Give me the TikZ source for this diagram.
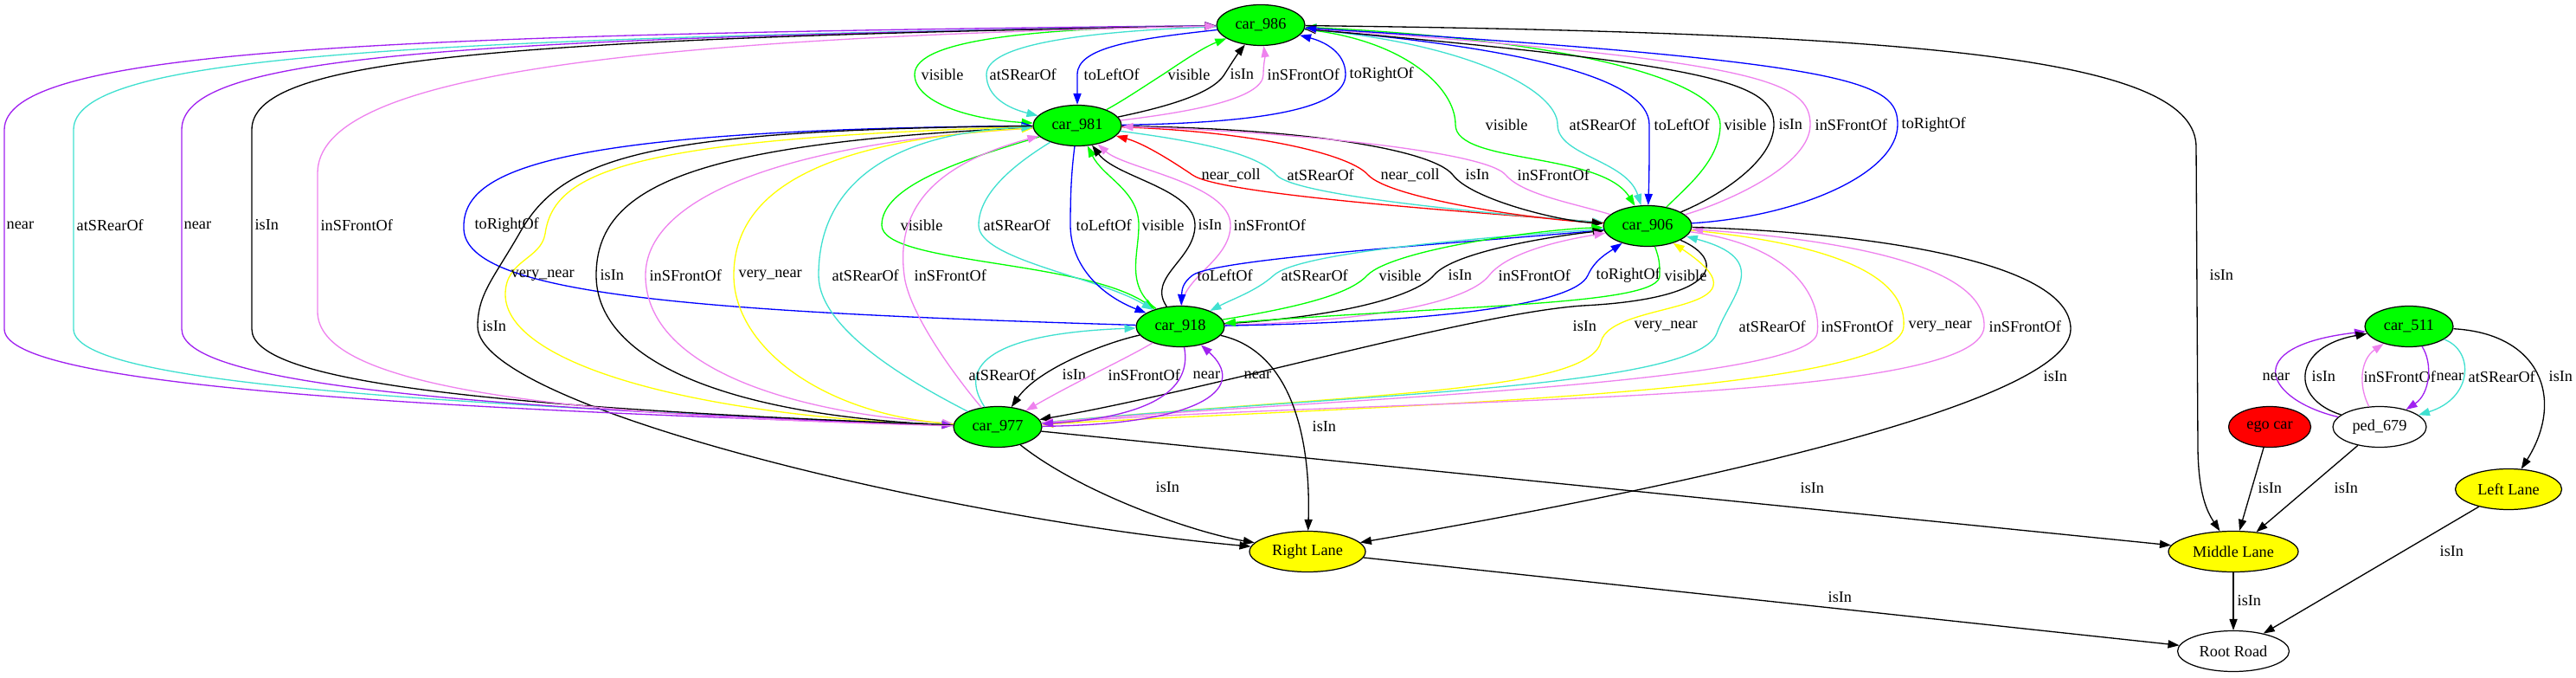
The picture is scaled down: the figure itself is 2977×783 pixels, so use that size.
\documentclass[tikz,border=0pt]{standalone}
\usepackage{fontspec}
\setmainfont{Liberation Serif}
\usetikzlibrary{arrows.meta,shapes.geometric}
\definecolor{gvgreen}{RGB}{0,255,0}
\definecolor{gvturq}{RGB}{64,224,208}
\definecolor{gvviolet}{RGB}{238,130,238}
\definecolor{gvpurple}{RGB}{160,32,240}
\definecolor{gvblue}{RGB}{0,0,255}
\definecolor{gvred}{RGB}{255,0,0}
\definecolor{gvyellow}{RGB}{255,255,0}
\newcommand{\gvfont}{\fontsize{10.4}{12}\selectfont}
\begin{document}
\begin{tikzpicture}[x=0.02cm, y=-0.02cm,
    font=\gvfont,
    >={Triangle[length=7.4pt,width=5.2pt]},
    obj/.style={ellipse, draw, line width=0.7pt, inner sep=0pt, minimum height=0.94cm, minimum width=2.04cm},
    car/.style={obj, fill=gvgreen},
    lane/.style={obj, fill=gvyellow},
    rel/.style={->, line width=0.75pt},
    vis/.style={rel, gvgreen},
    rear/.style={rel, gvturq},
    lft/.style={rel, gvblue},
    rgt/.style={rel, gvblue},
    isin/.style={rel, black},
    front/.style={rel, gvviolet},
    nr/.style={rel, gvpurple},
    coll/.style={rel, gvred},
    vnr/.style={rel, gvyellow},
    lbl/.style={anchor=west, inner sep=0pt, text=black}]
  \useasboundingbox (0,0) rectangle (2977,783);
  % objects
  \node[car] (c986) at (1457,29) {car\_986};
  \node[car] (c981) at (1245,145) {car\_981};
  \node[car] (c906) at (1904,261) {car\_906};
  \node[car] (c918) at (1364,377) {car\_918};
  \node[car] (c977) at (1153,493) {car\_977};
  \node[car] (c511) at (2784,377) {car\_511};
  \node[obj, minimum width=2.16cm] (ped) at (2750,493) {ped\_679};
  \node[obj, fill=gvred, minimum width=1.9cm] (ego) at (2623,493) {ego car};
  \node[lane, minimum width=2.68cm] (right) at (1511,637) {Right Lane};
  \node[lane, minimum width=3cm] (middle) at (2581,637) {Middle Lane};
  \node[lane, minimum width=2.46cm] (left) at (2899,565) {Left Lane};
  \node[obj, minimum width=2.58cm] (root) at (2581,752) {Root Road};
  % car_986 and car_981
  \draw[vis] (c986) .. controls (1200,32) and (1057,45) .. (1057,86) .. controls (1057,118) and (1120,138) .. (c981) node[lbl] at (1064,86) {visible};
  \draw[rear] (c986) .. controls (1260,36) and (1140,50) .. (1140,86) .. controls (1140,112) and (1165,125) .. (c981) node[lbl] at (1143,86) {atSRearOf};
  \draw[lft] (c986) .. controls (1310,45) and (1245,55) .. (1245,86) .. controls (1245,100) and (1245,110) .. (c981) node[lbl] at (1252,86) {toLeftOf};
  \draw[vis] (c981) .. controls (1300,115) and (1325,98) .. (1344,86) .. controls (1365,72) and (1390,55) .. (c986) node[lbl] at (1349,86) {visible};
  \draw[isin] (c981) .. controls (1340,125) and (1400,110) .. (1415,86) .. controls (1425,70) and (1432,60) .. (c986) node[lbl] at (1421,86) {isIn};
  \draw[front] (c981) .. controls (1370,130) and (1460,115) .. (1460,86) .. controls (1460,75) and (1462,65) .. (c986) node[lbl] at (1464,86) {inSFrontOf};
  \draw[rgt] (c981) .. controls (1460,142) and (1555,125) .. (1555,86) .. controls (1555,60) and (1530,48) .. (c986) node[lbl] at (1559,86) {toRightOf};
  % car_986 and car_906
  \draw[vis] (c986) .. controls (1620,45) and (1682,100) .. (1682,144) .. controls (1682,190) and (1850,175) .. (c906) node[lbl] at (1716,144) {visible};
  \draw[rear] (c986) .. controls (1700,50) and (1800,105) .. (1800,144) .. controls (1800,180) and (1880,185) .. (c906) node[lbl] at (1813,144) {atSRearOf};
  \draw[lft] (c986) .. controls (1760,55) and (1906,90) .. (1906,144) .. controls (1906,180) and (1906,200) .. (c906) node[lbl] at (1911,144) {toLeftOf};
  \draw[vis] (c906) .. controls (1950,215) and (1988,185) .. (1988,144) .. controls (1988,90) and (1800,45) .. (c986) node[lbl] at (1992,144) {visible};
  \draw[isin] (c906) .. controls (1990,225) and (2050,185) .. (2050,144) .. controls (2050,95) and (1980,75) .. (c986) node[lbl] at (2055,144) {isIn};
  \draw[front] (c906) .. controls (2000,232) and (2092,190) .. (2092,144) .. controls (2092,95) and (2040,70) .. (c986) node[lbl] at (2097,144) {inSFrontOf};
  \draw[rgt] (c906) .. controls (2080,250) and (2193,200) .. (2193,144) .. controls (2193,95) and (2150,72) .. (c986) node[lbl] at (2197,144) {toRightOf};
  % car_981 and car_906
  \draw[coll] (c906) .. controls (1700,245) and (1410,225) .. (1378,202) .. controls (1350,183) and (1320,165) .. (c981) node[lbl] at (1388,202) {near\_coll};
  \draw[rear] (c981) .. controls (1400,165) and (1455,180) .. (1475,202) .. controls (1495,225) and (1700,245) .. (c906) node[lbl] at (1487,202) {atSRearOf};
  \draw[coll] (c981) .. controls (1450,152) and (1560,178) .. (1581,202) .. controls (1605,228) and (1760,252) .. (c906) node[lbl] at (1595,202) {near\_coll};
  \draw[isin] (c981) .. controls (1500,148) and (1655,172) .. (1679,202) .. controls (1700,230) and (1800,255) .. (c906) node[lbl] at (1693,202) {isIn};
  \draw[front] (c906) .. controls (1820,235) and (1760,225) .. (1740,202) .. controls (1715,172) and (1450,150) .. (c981) node[lbl] at (1753,202) {inSFrontOf};
  % car_981 and car_918
  \draw[vis] (c981) .. controls (1110,185) and (1019,215) .. (1019,260) .. controls (1019,305) and (1250,300) .. (c918) node[lbl] at (1040,260) {visible};
  \draw[rear] (c981) .. controls (1180,185) and (1131,220) .. (1131,260) .. controls (1131,300) and (1270,320) .. (c918) node[lbl] at (1136,260) {atSRearOf};
  \draw[lft] (c981) .. controls (1238,200) and (1237,225) .. (1237,260) .. controls (1237,305) and (1270,340) .. (c918) node[lbl] at (1243,260) {toLeftOf};
  \draw[vis] (c918) .. controls (1300,330) and (1316,295) .. (1316,260) .. controls (1316,220) and (1275,205) .. (c981) node[lbl] at (1319,260) {visible};
  \draw[isin] (c918) .. controls (1325,320) and (1381,300) .. (1381,260) .. controls (1381,218) and (1290,205) .. (c981) node[lbl] at (1384,260) {isIn};
  \draw[front] (c918) .. controls (1368,320) and (1422,300) .. (1422,260) .. controls (1422,212) and (1300,195) .. (c981) node[lbl] at (1425,260) {inSFrontOf};
  \draw[rgt] (c918) .. controls (800,360) and (540,340) .. (536,265) .. controls (533,200) and (620,150) .. (c981) node[lbl] at (548,260) {toRightOf};
  % car_906 and car_918
  \draw[lft] (c906) .. controls (1700,280) and (1405,298) .. (1378,318) .. controls (1368,326) and (1366,332) .. (c918) node[lbl] at (1383,318) {toLeftOf};
  \draw[rear] (c906) .. controls (1700,275) and (1500,292) .. (1472,318) .. controls (1452,336) and (1425,345) .. (c918) node[lbl] at (1480,318) {atSRearOf};
  \draw[vis] (c918) .. controls (1500,355) and (1560,340) .. (1580,318) .. controls (1610,288) and (1780,265) .. (c906) node[lbl] at (1593,318) {visible};
  \draw[isin] (c918) .. controls (1560,365) and (1638,340) .. (1657,318) .. controls (1680,290) and (1800,272) .. (c906) node[lbl] at (1673,318) {isIn};
  \draw[front] (c918) .. controls (1610,370) and (1700,345) .. (1721,318) .. controls (1745,288) and (1820,275) .. (c906) node[lbl] at (1731,318) {inSFrontOf};
  \draw[rgt] (c918) .. controls (1660,372) and (1820,352) .. (1835,318) .. controls (1843,300) and (1858,292) .. (c906) node[lbl] at (1844,318) {toRightOf};
  \draw[vis] (c906) .. controls (1918,300) and (1918,305) .. (1918,318) .. controls (1920,352) and (1700,352) .. (c918) node[lbl] at (1923,318) {visible};
  % car_906 and car_977
  \draw[isin] (c906) .. controls (1995,300) and (1990,345) .. (1829,353) .. controls (1700,362) and (1400,450) .. (c977) node[lbl] at (1817,377) {isIn};
  \draw[vnr] (c977) .. controls (1550,455) and (1835,455) .. (1850,395) .. controls (1862,345) and (2060,365) .. (c906) node[lbl] at (1888,377) {very\_near};
  \draw[rear] (c977) .. controls (1550,455) and (1960,450) .. (1984,385) .. controls (2000,340) and (2050,300) .. (c906) node[lbl] at (2009,377) {atSRearOf};
  \draw[front] (c906) .. controls (2080,285) and (2105,350) .. (2100,385) .. controls (2090,445) and (1500,462) .. (c977) node[lbl] at (2104,377) {inSFrontOf};
  \draw[vnr] (c906) .. controls (2150,285) and (2203,330) .. (2200,377) .. controls (2196,455) and (1600,468) .. (c977) node[lbl] at (2205,377) {very\_near};
  \draw[front] (c977) .. controls (1600,458) and (2290,470) .. (2293,377) .. controls (2295,300) and (2100,275) .. (c906) node[lbl] at (2298,377) {inSFrontOf};
  \draw[isin] (c906) .. controls (2150,268) and (2393,300) .. (2393,380) .. controls (2393,470) and (1900,570) .. (right) node[lbl] at (2361,435) {isIn};
  % car_918 and car_977
  \draw[rear] (c977) .. controls (1105,420) and (1150,385) .. (c918) node[lbl] at (1119,433) {atSRearOf};
  \draw[isin] (c918) .. controls (1280,395) and (1200,425) .. (c977) node[lbl] at (1227,433) {isIn};
  \draw[front] (c918) .. controls (1300,415) and (1245,440) .. (c977) node[lbl] at (1280,433) {inSFrontOf};
  \draw[nr] (c918) .. controls (1376,440) and (1350,480) .. (c977) node[lbl] at (1378,433) {near};
  \draw[nr] (c977) .. controls (1400,490) and (1440,445) .. (c918) node[lbl] at (1437,433) {near};
  % lanes
  \draw[isin] (c918) .. controls (1490,405) and (1515,500) .. (right) node[lbl] at (1516,493) {isIn};
  \draw[isin] (c977) .. controls (1250,570) and (1380,615) .. (right) node[lbl] at (1335,563) {isIn};
  \draw[isin] (c977) -- (middle) node[lbl] at (2080,564) {isIn};
  \draw[isin] (c986) .. controls (2250,38) and (2538,70) .. (2538,170) -- (2540,520) .. controls (2541,570) and (2550,590) .. (middle) node[lbl] at (2553,318) {isIn};
  \draw[isin] (right) -- (root) node[lbl] at (2112,690) {isIn};
  \draw[isin] (middle) -- (root) node[lbl] at (2585,694) {isIn};
  \draw[isin] (left) -- (root) node[lbl] at (2819,637) {isIn};
  \draw[isin] (ego) -- (middle) node[lbl] at (2609,564) {isIn};
  \draw[isin] (ped) -- (middle) node[lbl] at (2697,564) {isIn};
  \draw[isin] (c511) .. controls (2935,385) and (2965,460) .. (left) node[lbl] at (2945,435) {isIn};
  % car_511 and ped_679
  \draw[nr] (ped) .. controls (2620,462) and (2585,400) .. (c511) node[lbl] at (2614,435) {near};
  \draw[isin] (ped) .. controls (2645,460) and (2650,400) .. (c511) node[lbl] at (2671,435) {isIn};
  \draw[front] (ped) .. controls (2725,445) and (2728,415) .. (c511) node[lbl] at (2731,435) {inSFrontOf};
  \draw[nr] (c511) .. controls (2812,420) and (2808,455) .. (ped) node[lbl] at (2815,435) {near};
  \draw[rear] (c511) .. controls (2860,405) and (2858,460) .. (ped) node[lbl] at (2852,435) {atSRearOf};
  % car_981 and car_977
  \draw[vnr] (c981) .. controls (720,160) and (640,200) .. (630,270) .. controls (625,300) and (584,300) .. (584,340) .. controls (584,420) and (800,480) .. (c977) node[lbl] at (590,318) {very\_near};
  \draw[isin] (c981) .. controls (800,165) and (689,215) .. (689,318) .. controls (689,420) and (850,480) .. (c977) node[lbl] at (693,318) {isIn};
  \draw[front] (c981) .. controls (900,165) and (746,230) .. (746,318) .. controls (746,420) and (900,475) .. (c977) node[lbl] at (750,318) {inSFrontOf};
  \draw[vnr] (c977) .. controls (950,480) and (848,400) .. (848,318) .. controls (848,220) and (950,162) .. (c981) node[lbl] at (853,318) {very\_near};
  \draw[rear] (c977) .. controls (1050,440) and (946,380) .. (946,318) .. controls (946,200) and (1050,152) .. (c981) node[lbl] at (961,318) {atSRearOf};
  \draw[front] (c977) .. controls (1100,430) and (1050,360) .. (1045,318) .. controls (1035,240) and (1080,190) .. (c981) node[lbl] at (1056,318) {inSFrontOf};
  \draw[isin] (c981) .. controls (750,150) and (650,180) .. (600,270) .. controls (570,322) and (552,340) .. (552,377) .. controls (552,470) and (1100,600) .. (right) node[lbl] at (557,377) {isIn};
  % car_986 and car_977, round the left side
  \draw[nr] (c977) .. controls (400,470) and (5,440) .. (5,380) -- (5,150) .. controls (5,60) and (400,40) .. (c986) node[lbl] at (7,260) {near};
  \draw[rear] (c986) .. controls (450,45) and (85,65) .. (85,150) -- (85,380) .. controls (85,440) and (450,465) .. (c977) node[lbl] at (88,260) {atSRearOf};
  \draw[nr] (c986) .. controls (500,45) and (210,65) .. (210,150) -- (210,380) .. controls (210,440) and (500,470) .. (c977) node[lbl] at (212,260) {near};
  \draw[isin] (c977) .. controls (550,470) and (291,440) .. (291,380) -- (291,150) .. controls (291,70) and (550,45) .. (c986) node[lbl] at (294,260) {isIn};
  \draw[front] (c977) .. controls (600,480) and (367,440) .. (367,360) -- (367,200) .. controls (367,90) and (700,45) .. (c986) node[lbl] at (370,260) {inSFrontOf};
\end{tikzpicture}
\end{document}
